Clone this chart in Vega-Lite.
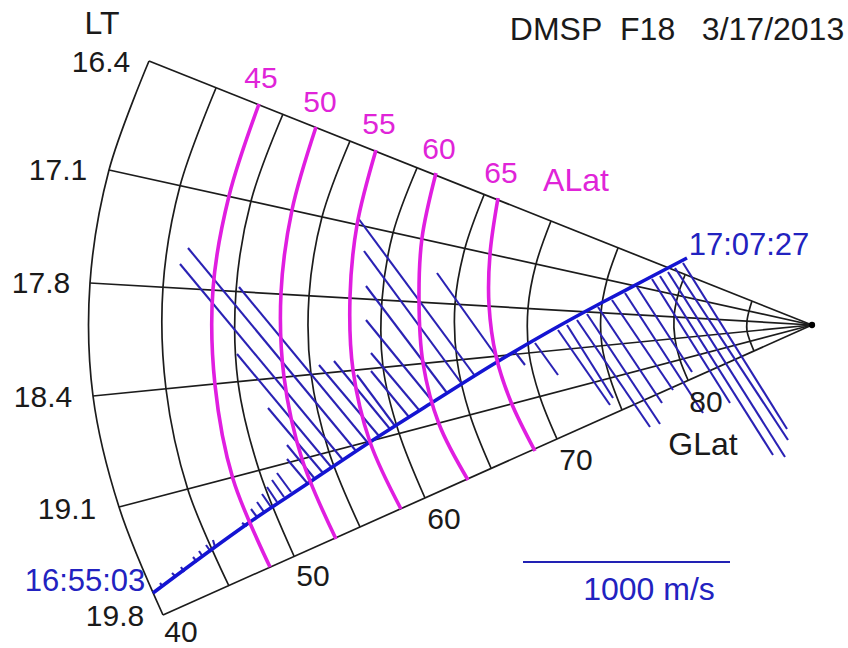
{"$schema":"https://vega.github.io/schema/vega-lite/v6.json","width":848,"height":648,"autosize":{"type":"none"},"padding":0,"background":"white","config":{"view":{"stroke":null}},"encoding":{},"layer":[
{"data":{"values":[
{"lt":"16.4","x":149,"y":61,"x2":812,"y2":325},{"lt":"17.1","x":109,"y":170,"x2":812,"y2":325},{"lt":"17.8","x":90,"y":283,"x2":812,"y2":325},{"lt":"18.4","x":93,"y":396,"x2":812,"y2":325},{"lt":"19.1","x":119,"y":507,"x2":812,"y2":325},{"lt":"19.8","x":163,"y":615,"x2":812,"y2":325}]},
"mark":{"type":"rule","color":"#1c1c1c","strokeWidth":1.7},
"encoding":{"x":{"field":"x","type":"quantitative","scale":{"domain":[0,848],"nice":false,"zero":false},"axis":null},"y":{"field":"y","type":"quantitative","scale":{"domain":[648,0],"nice":false,"zero":false},"axis":null},"x2":{"field":"x2"},"y2":{"field":"y2"}}},
{"data":{"values":[
{"g":40,"i":1,"x":149,"y":61},{"g":40,"i":2,"x":109,"y":170},{"g":40,"i":3,"x":90,"y":283},{"g":40,"i":4,"x":93,"y":396},{"g":40,"i":5,"x":119,"y":507},{"g":40,"i":6,"x":163,"y":615},
{"g":45,"i":1,"x":216,"y":88},{"g":45,"i":2,"x":180,"y":186},{"g":45,"i":3,"x":163,"y":287},{"g":45,"i":4,"x":166,"y":389},{"g":45,"i":5,"x":188,"y":490},{"g":45,"i":6,"x":229,"y":586},
{"g":50,"i":1,"x":283,"y":114},{"g":50,"i":2,"x":251,"y":201},{"g":50,"i":3,"x":236,"y":291},{"g":50,"i":4,"x":238,"y":382},{"g":50,"i":5,"x":259,"y":470},{"g":50,"i":6,"x":294,"y":556},
{"g":55,"i":1,"x":350,"y":141},{"g":55,"i":2,"x":322,"y":217},{"g":55,"i":3,"x":309,"y":296},{"g":55,"i":4,"x":311,"y":374},{"g":55,"i":5,"x":329,"y":452},{"g":55,"i":6,"x":360,"y":527},
{"g":60,"i":1,"x":417,"y":168},{"g":60,"i":2,"x":393,"y":233},{"g":60,"i":3,"x":382,"y":300},{"g":60,"i":4,"x":383,"y":367},{"g":60,"i":5,"x":399,"y":433},{"g":60,"i":6,"x":425,"y":498},
{"g":65,"i":1,"x":484,"y":195},{"g":65,"i":2,"x":465,"y":248},{"g":65,"i":3,"x":455,"y":304},{"g":65,"i":4,"x":457,"y":360},{"g":65,"i":5,"x":470,"y":415},{"g":65,"i":6,"x":491,"y":468},
{"g":70,"i":1,"x":551,"y":221},{"g":70,"i":2,"x":536,"y":264},{"g":70,"i":3,"x":528,"y":308},{"g":70,"i":4,"x":529,"y":353},{"g":70,"i":5,"x":540,"y":397},{"g":70,"i":6,"x":557,"y":439},
{"g":75,"i":1,"x":618,"y":248},{"g":75,"i":2,"x":607,"y":280},{"g":75,"i":3,"x":601,"y":313},{"g":75,"i":4,"x":602,"y":346},{"g":75,"i":5,"x":610,"y":378},{"g":75,"i":6,"x":622,"y":410},
{"g":80,"i":1,"x":685,"y":275},{"g":80,"i":2,"x":678,"y":295},{"g":80,"i":3,"x":674,"y":317},{"g":80,"i":4,"x":675,"y":339},{"g":80,"i":5,"x":680,"y":360},{"g":80,"i":6,"x":688,"y":380},
{"g":85,"i":1,"x":752,"y":301},{"g":85,"i":2,"x":749,"y":311},{"g":85,"i":3,"x":747,"y":321},{"g":85,"i":4,"x":747,"y":331},{"g":85,"i":5,"x":750,"y":341},{"g":85,"i":6,"x":754,"y":351}]},
"mark":{"type":"line","color":"#1c1c1c","strokeWidth":1.7,"interpolate":"catmull-rom"},
"encoding":{"x":{"field":"x","type":"quantitative"},"y":{"field":"y","type":"quantitative"},"detail":{"field":"g"},"order":{"field":"i"}}},
{"data":{"values":[
{"x":160,"y":583,"x2":163,"y2":587},{"x":172,"y":573,"x2":176,"y2":577},{"x":181,"y":567,"x2":184,"y2":572},{"x":193,"y":557,"x2":197,"y2":562},{"x":199,"y":551,"x2":203,"y2":557},{"x":206,"y":545,"x2":211,"y2":552},{"x":213,"y":540,"x2":215,"y2":547},{"x":242,"y":523,"x2":247,"y2":526},{"x":251,"y":509,"x2":257,"y2":517},{"x":257,"y":502,"x2":264,"y2":512},{"x":262,"y":494,"x2":271,"y2":507},{"x":267,"y":487,"x2":277,"y2":502},{"x":272,"y":480,"x2":284,"y2":497},{"x":277,"y":473,"x2":291,"y2":492},{"x":287,"y":459,"x2":308,"y2":484},{"x":287,"y":445,"x2":315,"y2":479},{"x":268,"y":408,"x2":323,"y2":473},{"x":237,"y":354,"x2":332,"y2":468},{"x":180,"y":264,"x2":343,"y2":460},{"x":188,"y":248,"x2":356,"y2":451},{"x":239,"y":287,"x2":368,"y2":443},{"x":319,"y":365,"x2":379,"y2":436},{"x":334,"y":361,"x2":390,"y2":429},{"x":357,"y":375,"x2":395,"y2":426},{"x":371,"y":371,"x2":409,"y2":417},{"x":371,"y":353,"x2":419,"y2":410},{"x":366,"y":320,"x2":433,"y2":402},{"x":366,"y":286,"x2":447,"y2":393},{"x":364,"y":251,"x2":462,"y2":384},{"x":358,"y":218,"x2":475,"y2":376},{"x":437,"y":273,"x2":499,"y2":360},
{"x":515,"y":352,"x2":525,"y2":365},{"x":535,"y":343,"x2":558,"y2":375},{"x":558,"y":330,"x2":610,"y2":405},{"x":567,"y":325,"x2":613,"y2":398},{"x":577,"y":320,"x2":650,"y2":427},{"x":587,"y":314,"x2":660,"y2":424},{"x":598,"y":307,"x2":662,"y2":403},{"x":612,"y":300,"x2":673,"y2":390},{"x":625,"y":293,"x2":703,"y2":413},{"x":637,"y":287,"x2":692,"y2":372},{"x":652,"y":279,"x2":730,"y2":403},{"x":660,"y":276,"x2":773,"y2":455},{"x":668,"y":272,"x2":785,"y2":457},{"x":675,"y":268,"x2":788,"y2":440},{"x":683,"y":263,"x2":787,"y2":429}]},
"mark":{"type":"rule","color":"#2a22b4","strokeWidth":2.1},
"encoding":{"x":{"field":"x","type":"quantitative"},"y":{"field":"y","type":"quantitative"},"x2":{"field":"x2"},"y2":{"field":"y2"}}},
{"data":{"values":[{"i":1,"x":153,"y":593},{"i":2,"x":200,"y":558},{"i":3,"x":250,"y":522},{"i":4,"x":310,"y":482},{"i":5,"x":370,"y":442},{"i":6,"x":433,"y":402},{"i":7,"x":497,"y":362},{"i":8,"x":550,"y":331},{"i":9,"x":603,"y":302},{"i":10,"x":645,"y":280},{"i":11,"x":687,"y":258}]},
"mark":{"type":"line","color":"#1414d2","strokeWidth":3.6,"interpolate":"monotone"},
"encoding":{"x":{"field":"x","type":"quantitative"},"y":{"field":"y","type":"quantitative"},"order":{"field":"i"}}},
{"data":{"values":[
{"a":45,"i":1,"x":259,"y":104},{"a":45,"i":2,"x":229,"y":196},{"a":45,"i":3,"x":213,"y":289},{"a":45,"i":4,"x":215,"y":385},{"a":45,"i":5,"x":233,"y":479},{"a":45,"i":6,"x":270,"y":567},
{"a":50,"i":1,"x":316,"y":127},{"a":50,"i":2,"x":292,"y":210},{"a":50,"i":3,"x":281,"y":293},{"a":50,"i":4,"x":284,"y":377},{"a":50,"i":5,"x":302,"y":459},{"a":50,"i":6,"x":336,"y":539},
{"a":55,"i":1,"x":376,"y":150},{"a":55,"i":2,"x":357,"y":225},{"a":55,"i":3,"x":350,"y":297},{"a":55,"i":4,"x":353,"y":370},{"a":55,"i":5,"x":370,"y":442},{"a":55,"i":6,"x":401,"y":509},
{"a":60,"i":1,"x":436,"y":173},{"a":60,"i":2,"x":422,"y":238},{"a":60,"i":3,"x":419,"y":300},{"a":60,"i":4,"x":423,"y":363},{"a":60,"i":5,"x":439,"y":424},{"a":60,"i":6,"x":468,"y":480},
{"a":65,"i":1,"x":498,"y":198},{"a":65,"i":2,"x":490,"y":254},{"a":65,"i":3,"x":489,"y":305},{"a":65,"i":4,"x":496,"y":356},{"a":65,"i":5,"x":511,"y":402},{"a":65,"i":6,"x":535,"y":451}]},
"mark":{"type":"line","color":"#e01ee0","strokeWidth":3.6,"interpolate":"catmull-rom"},
"encoding":{"x":{"field":"x","type":"quantitative"},"y":{"field":"y","type":"quantitative"},"detail":{"field":"a"},"order":{"field":"i"}}},
{"data":{"values":[{"x":523,"y":562,"x2":730,"y2":562}]},
"mark":{"type":"rule","color":"#2222b4","strokeWidth":1.8},
"encoding":{"x":{"field":"x","type":"quantitative"},"y":{"field":"y","type":"quantitative"},"x2":{"field":"x2"},"y2":{"field":"y2"}}},
{"data":{"values":[{"x":812,"y":325}]},
"mark":{"type":"point","filled":true,"color":"#000000","size":40,"opacity":1},
"encoding":{"x":{"field":"x","type":"quantitative"},"y":{"field":"y","type":"quantitative"}}},
{"data":{"values":[
{"t":"16.4","x":101,"y":62},{"t":"17.1","x":58,"y":170},{"t":"17.8","x":41,"y":283},{"t":"18.4","x":43,"y":397},{"t":"19.1","x":67,"y":509},{"t":"19.8","x":115,"y":616},{"t":"40","x":181,"y":632},{"t":"50","x":313,"y":576},{"t":"60","x":444,"y":519},{"t":"70","x":576,"y":460},{"t":"80","x":706,"y":402}]},
"mark":{"type":"text","font":"Liberation Sans","fontSize":30,"color":"#1a1a1a","align":"center","baseline":"middle","dy":1},
"encoding":{"x":{"field":"x","type":"quantitative"},"y":{"field":"y","type":"quantitative"},"text":{"field":"t"}}},
{"data":{"values":[{"t":"LT","x":102,"y":23},{"t":"GLat","x":703,"y":444},{"t":"DMSP\u00a0\u00a0F18\u00a0\u00a0\u00a03/17/2013","x":677,"y":29}]},
"mark":{"type":"text","font":"Liberation Sans","fontSize":32,"color":"#1a1a1a","align":"center","baseline":"middle","dy":1},
"encoding":{"x":{"field":"x","type":"quantitative"},"y":{"field":"y","type":"quantitative"},"text":{"field":"t"}}},
{"data":{"values":[{"t":"45","x":261,"y":78},{"t":"50","x":320,"y":102},{"t":"55","x":379,"y":124},{"t":"60","x":439,"y":149},{"t":"65","x":501,"y":173}]},
"mark":{"type":"text","font":"Liberation Sans","fontSize":30,"color":"#e024d8","align":"center","baseline":"middle","dy":1},
"encoding":{"x":{"field":"x","type":"quantitative"},"y":{"field":"y","type":"quantitative"},"text":{"field":"t"}}},
{"data":{"values":[{"t":"ALat","x":576,"y":180}]},
"mark":{"type":"text","font":"Liberation Sans","fontSize":32,"color":"#e024d8","align":"center","baseline":"middle","dy":1},
"encoding":{"x":{"field":"x","type":"quantitative"},"y":{"field":"y","type":"quantitative"},"text":{"field":"t"}}},
{"data":{"values":[{"t":"17:07:27","x":749,"y":245},{"t":"16:55:03","x":85,"y":581}]},
"mark":{"type":"text","font":"Liberation Sans","fontSize":31,"color":"#2222c0","align":"center","baseline":"middle","dy":1},
"encoding":{"x":{"field":"x","type":"quantitative"},"y":{"field":"y","type":"quantitative"},"text":{"field":"t"}}},
{"data":{"values":[{"t":"1000 m/s","x":649,"y":589}]},
"mark":{"type":"text","font":"Liberation Sans","fontSize":32,"color":"#2222c0","align":"center","baseline":"middle","dy":1},
"encoding":{"x":{"field":"x","type":"quantitative"},"y":{"field":"y","type":"quantitative"},"text":{"field":"t"}}}
]}
